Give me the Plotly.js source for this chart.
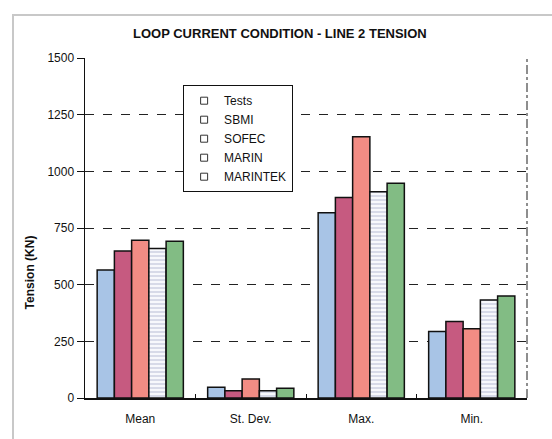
<!DOCTYPE html>
<html>
<head>
<meta charset="utf-8">
<script src="https://cdn.plot.ly/plotly-3.0.1.min.js"></script>
<style>
html,body{margin:0;padding:0;background:#fff;}
#frame{position:absolute;left:12px;top:14px;width:548px;height:432px;border-left:2px solid #c8c8c8;border-top:2px solid #c8c8c8;}
#chart{position:absolute;left:0;top:0;width:552px;height:439px;}
</style>
</head>
<body>
<div id="frame"></div>
<div id="chart"></div>
<script>
const categories = ["Mean", "St. Dev.", "Max.", "Min."];
const seriesNames = ["Tests", "SBMI", "SOFEC", "MARIN", "MARINTEK"];
const tests    = [565, 47, 817, 293];
const sbmi     = [648, 32, 885, 337];
const sofec    = [696, 84, 1153, 306];
const marin    = [660, 32, 910, 432];
const marintek = [691, 43, 947, 450];
const yTicks = [0, 250, 500, 750, 1000, 1250, 1500];

const seriesValues = [tests, sbmi, sofec, marin, marintek];
const colors = ["#a8c4e6", "#c65a80", "#f28c84", "#eef0f8", "#82bc84"];

const traces = seriesValues.map((vals, i) => {
  const t = {
    type: "bar", x: categories, y: vals, name: seriesNames[i], showlegend: false,
    marker: {color: colors[i], line: {color: "#111", width: 1.5}}
  };
  if (i === 3) {
    t.marker.pattern = {shape: "-", fgcolor: "#c9cde0", bgcolor: "#f7f8fc", size: 4, solidity: 0.35};
  }
  return t;
});
// legend entries (hollow square swatches like the original)
seriesNames.forEach((n) => {
  traces.push({type: "scatter", mode: "markers", x: [null], y: [null], name: n,
    marker: {symbol: "square-open", size: 7, color: "#333", line: {width: 1}}, hoverinfo: "skip"});
});

const layout = {
  width: 552, height: 439,
  margin: {l: 85, r: 25, t: 58, b: 41},
  paper_bgcolor: "rgba(0,0,0,0)", plot_bgcolor: "rgba(0,0,0,0)",
  font: {family: "Liberation Sans, Arial, sans-serif", color: "#111", size: 12},
  title: {text: "<b>LOOP CURRENT CONDITION - LINE 2 TENSION</b>", x: 0.507, xanchor: "center", y: 0.923, yanchor: "middle",
    font: {size: 13, color: "#111"}},
  barmode: "group", bargap: 0.22, bargroupgap: 0,
  xaxis: {showline: true, linecolor: "#111", linewidth: 1.5, ticks: "inside", ticklen: 4, tickson: "boundaries",
    tickcolor: "#111", tickfont: {size: 12}, ticklabelstandoff: 9, mirror: false, showgrid: false},
  yaxis: {range: [0, 1500], tickvals: yTicks, ticktext: yTicks.map(String), ticks: "outside", ticklen: 7,
    tickcolor: "#111", showline: true, linecolor: "#111", linewidth: 1.5,
    showgrid: true, gridcolor: "#222", griddash: "dash", gridwidth: 1, zeroline: false,
    tickfont: {size: 12}},
  annotations: [
    {text: "<b>Tension (KN)</b>", xref: "paper", yref: "paper", x: -0.124, y: 0.37, textangle: -90,
      showarrow: false, xanchor: "center", yanchor: "middle", font: {size: 12}}
  ],
  legend: {x: 0.222, y: 0.92, xanchor: "left", yanchor: "top", bgcolor: "#fff", bordercolor: "#111", borderwidth: 1,
    font: {size: 12}, itemwidth: 30, tracegroupgap: 0},
  shapes: [
    {type: "line", xref: "paper", yref: "paper", x0: 1, x1: 1, y0: 0, y1: 1, line: {color: "#444", width: 1.2, dash: "dashdot"}}
  ]
};
Plotly.newPlot("chart", traces, layout, {displayModeBar: false, staticPlot: true});
</script>
</body>
</html>
